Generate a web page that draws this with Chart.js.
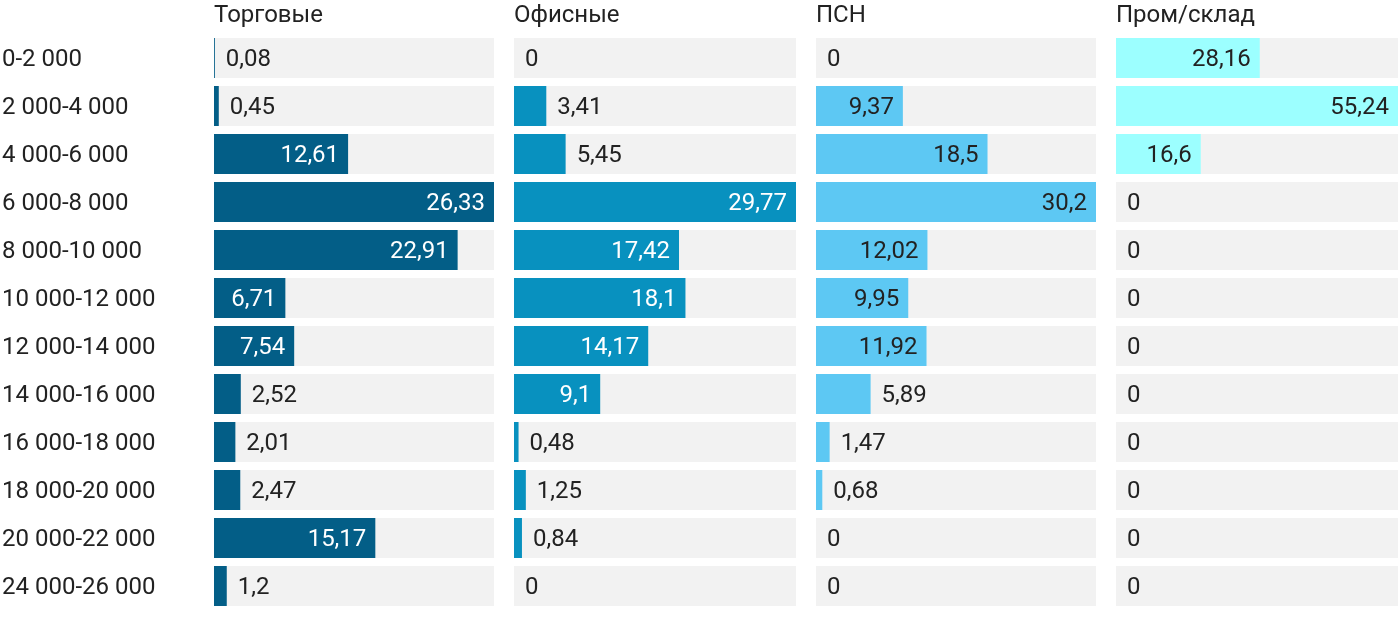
<!DOCTYPE html>
<html>
<head>
<meta charset="utf-8">
<script src="https://cdn.jsdelivr.net/npm/chart.js@4"></script>
<style>
  body { margin: 0; background: #fff; }
  #wrap { position: relative; width: 1400px; height: 622px; }
  canvas { position: absolute; top: 0; }
</style>
</head>
<body>
<div id="wrap">
  <canvas id="c0" width="494" height="622" style="left:0"></canvas>
  <canvas id="c1" width="282" height="622" style="left:514px"></canvas>
  <canvas id="c2" width="280" height="622" style="left:816px"></canvas>
  <canvas id="c3" width="282" height="622" style="left:1116px"></canvas>
</div>
<script>
// Диапазоны ставок (руб./кв.м/год)
const categories = ["0-2 000", "2 000-4 000", "4 000-6 000", "6 000-8 000", "8 000-10 000",
  "10 000-12 000", "12 000-14 000", "14 000-16 000", "16 000-18 000", "18 000-20 000",
  "20 000-22 000", "24 000-26 000"];

const panelTitles = ["Торговые", "Офисные", "ПСН", "Пром/склад"];

// Доля предложения, %
const retail = [0.08, 0.45, 12.61, 26.33, 22.91, 6.71, 7.54, 2.52, 2.01, 2.47, 15.17, 1.2];
const office = [0, 3.41, 5.45, 29.77, 17.42, 18.1, 14.17, 9.1, 0.48, 1.25, 0.84, 0];
const psn = [0, 9.37, 18.5, 30.2, 12.02, 9.95, 11.92, 5.89, 1.47, 0.68, 0, 0];
const industrial = [28.16, 55.24, 16.6, 0, 0, 0, 0, 0, 0, 0, 0, 0];

const series = [retail, office, psn, industrial];
const barColors = ["#035e87", "#0891bf", "#5dc8f3", "#9cffff"];
const insideText = ["#ffffff", "#ffffff", "#222222", "#222222"];

const FONT = "Roboto, 'Noto Sans', sans-serif";
const SIZE = 24;

function fmt(v) {
  return String(v).replace(".", ",");
}

// Подписи значений, категорий и заголовок панели
const labelPlugin = {
  id: "valueLabels",
  afterDatasetsDraw(chart, args, opts) {
    const ctx = chart.ctx;
    const meta = chart.getDatasetMeta(0);
    const data = chart.data.datasets[0].data;
    ctx.save();
    ctx.font = SIZE + "px " + FONT;
    ctx.textBaseline = "middle";
    meta.data.forEach((bar, i) => {
      const txt = fmt(data[i]);
      const w = bar.x - bar.base;
      const tw = ctx.measureText(txt).width;
      if (w > tw + 18) {
        ctx.fillStyle = opts.inside;
        ctx.textAlign = "right";
        ctx.fillText(txt, bar.x - 9, bar.y + 2);
      } else {
        ctx.fillStyle = "#222";
        ctx.textAlign = "left";
        ctx.fillText(txt, Math.max(bar.x, bar.base) + 11, bar.y + 2);
      }
    });
    ctx.fillStyle = "#222";
    ctx.textAlign = "left";
    if (opts.showCats) {
      const y = chart.scales.y;
      chart.data.labels.forEach((lab, i) => {
        ctx.fillText(lab, 2, y.getPixelForValue(i) + 2);
      });
    }
    ctx.fillText(opts.title, chart.chartArea.left, 16);
    ctx.restore();
  }
};

series.forEach((vals, p) => {
  const maxVal = Math.max(...vals);
  const track = vals.map(() => maxVal);
  const yAxis = {
    display: p === 0,
    grid: { display: false },
    border: { display: false },
    ticks: { display: false },
  };
  if (p === 0) {
    yAxis.afterFit = (scale) => {
      scale.width = 214;
      scale.paddingTop = 0;
      scale.paddingBottom = 0;
    };
  }
  new Chart(document.getElementById("c" + p), {
    type: "bar",
    data: {
      labels: categories,
      datasets: [
        {
          data: vals,
          backgroundColor: barColors[p],
          order: 0,
          grouped: false,
          categoryPercentage: 1,
          barPercentage: 40 / 48,
        },
        {
          data: track,
          backgroundColor: "#f2f2f2",
          order: 1,
          grouped: false,
          categoryPercentage: 1,
          barPercentage: 40 / 48,
        },
      ],
    },
    options: {
      indexAxis: "y",
      responsive: false,
      animation: false,
      layout: { padding: { top: 34, bottom: 12, left: 0, right: 0 } },
      plugins: {
        legend: { display: false },
        tooltip: { enabled: false },
        valueLabels: { title: panelTitles[p], inside: insideText[p], showCats: p === 0 },
      },
      scales: {
        x: { display: false, min: 0, max: maxVal },
        y: yAxis,
      },
    },
    plugins: [labelPlugin],
  });
});
</script>
</body>
</html>
